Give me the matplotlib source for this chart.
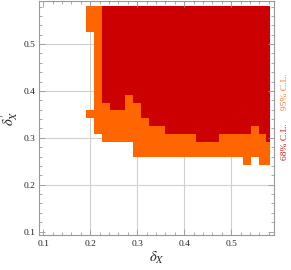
import numpy as np
import matplotlib
matplotlib.use("Agg")
import matplotlib.pyplot as plt
from matplotlib.colors import ListedColormap, BoundaryNorm
from matplotlib.ticker import MultipleLocator

# cell edges of the likelihood scan (delta_X horizontally, delta'_X vertically)
x_edges = [0.19167, 0.20833, 0.225, 0.24167, 0.25833, 0.275, 0.29167, 0.30833,
           0.325, 0.34167, 0.35833, 0.375, 0.39167, 0.40833, 0.425, 0.44167,
           0.45833, 0.475, 0.49167, 0.50833, 0.525, 0.54167, 0.55833, 0.575, 0.582]
y_edges = [0.24167, 0.25833, 0.275, 0.29167, 0.30833, 0.325, 0.34167, 0.35833,
           0.375, 0.39167, 0.40833, 0.425, 0.44167, 0.45833, 0.475, 0.49167,
           0.50833, 0.525, 0.54167, 0.55833, 0.575, 0.582]

# region map, top row first: '.' excluded, 'o' 95% C.L., 'r' 68% C.L.
region_rows = [
    "oorrrrrrrrrrrrrrrrrrrrrr",
    "oorrrrrrrrrrrrrrrrrrrrrr",
    "oorrrrrrrrrrrrrrrrrrrrrr",
    "oorrrrrrrrrrrrrrrrrrrrrr",
    ".orrrrrrrrrrrrrrrrrrrrrr",
    ".orrrrrrrrrrrrrrrrrrrrrr",
    ".orrrrrrrrrrrrrrrrrrrrrr",
    ".orrrrrrrrrrrrrrrrrrrrrr",
    ".orrrrrrrrrrrrrrrrrrrrrr",
    ".orrrrrrrrrrrrrrrrrrrrrr",
    ".orrrrrrrrrrrrrrrrrrrrrr",
    ".orrrrrrrrrrrrrrrrrrrrrr",
    ".orrrorrrrrrrrrrrrrrrrrr",
    ".oorroorrrrrrrrrrrrrrrrr",
    "ooooooorrrrrrrrrrrrrrrrr",
    ".ooooooorrrrrrrrrrrrrrrr",
    ".ooooooooorrrrrrrrrrrorr",
    "..oooooooooooorrroooooor",
    "......oooooooooooooooooo",
    "......oooooooooooooooooo",
    "....................o.oo",
]

level_of = {".": 0, "o": 1, "r": 2}

x_ticks = [0.1, 0.2, 0.3, 0.4, 0.5]
y_ticks = [0.1, 0.2, 0.3, 0.4, 0.5]
tick_labels = ["0.1", "0.2", "0.3", "0.4", "0.5"]

RED = "#cc0000"
ORANGE = "#ff6600"


def main():
    Z = np.array([[level_of[c] for c in r] for r in region_rows[::-1]], dtype=float)
    Z = np.ma.masked_equal(Z, 0)

    plt.rcParams["mathtext.fontset"] = "stix"
    fig = plt.figure(figsize=(2.91, 2.70), dpi=100)
    ax = fig.add_axes([0.135, 0.128, 0.8076, 0.868])

    for v in x_ticks[1:]:
        ax.axvline(v, color="#d0d0d0", lw=0.8, zorder=0)
    for v in y_ticks[1:]:
        ax.axhline(v, color="#d0d0d0", lw=0.8, zorder=0)

    cmap = ListedColormap([ORANGE, RED])
    norm = BoundaryNorm([0.5, 1.5, 2.5], cmap.N)
    ax.pcolormesh(x_edges, y_edges, Z, cmap=cmap, norm=norm,
                  shading="flat", zorder=1, antialiased=False, linewidth=0)

    ax.set_xlim(0.09167, 0.59167)
    ax.set_ylim(0.09167, 0.59167)

    ax.set_xticks(x_ticks)
    ax.set_yticks(y_ticks)
    ax.set_xticklabels(tick_labels)
    ax.set_yticklabels(tick_labels)
    ax.xaxis.set_minor_locator(MultipleLocator(0.02))
    ax.yaxis.set_minor_locator(MultipleLocator(0.02))
    ax.tick_params(which="both", direction="in", top=True, right=True,
                   color="#999999", width=0.6)
    ax.tick_params(which="major", length=4, labelsize=6.8, pad=3,
                   labelcolor="#222222")
    ax.tick_params(which="minor", length=2)
    for lbl in ax.get_xticklabels() + ax.get_yticklabels():
        lbl.set_family("Liberation Serif")
    for s in ax.spines.values():
        s.set_color("#999999")
        s.set_linewidth(0.8)

    ax.set_xlabel(r"$\delta_X$", fontsize=10.5, labelpad=2, color="#222222")
    ax.set_ylabel(r"$\delta^{\prime}_{X}$", fontsize=10.5, labelpad=2,
                  color="#222222")

    fig.text(0.978, 1 - 92 / 270, "95% C.L.", rotation=90, color="#ff7a2a",
             fontsize=6.8, family="Liberation Serif", ha="center", va="center")
    fig.text(0.978, 1 - 142 / 270, "68% C.L.", rotation=90, color="#dd2020",
             fontsize=6.8, family="Liberation Serif", ha="center", va="center")

    fig.savefig("out.png", dpi=100)


main()
